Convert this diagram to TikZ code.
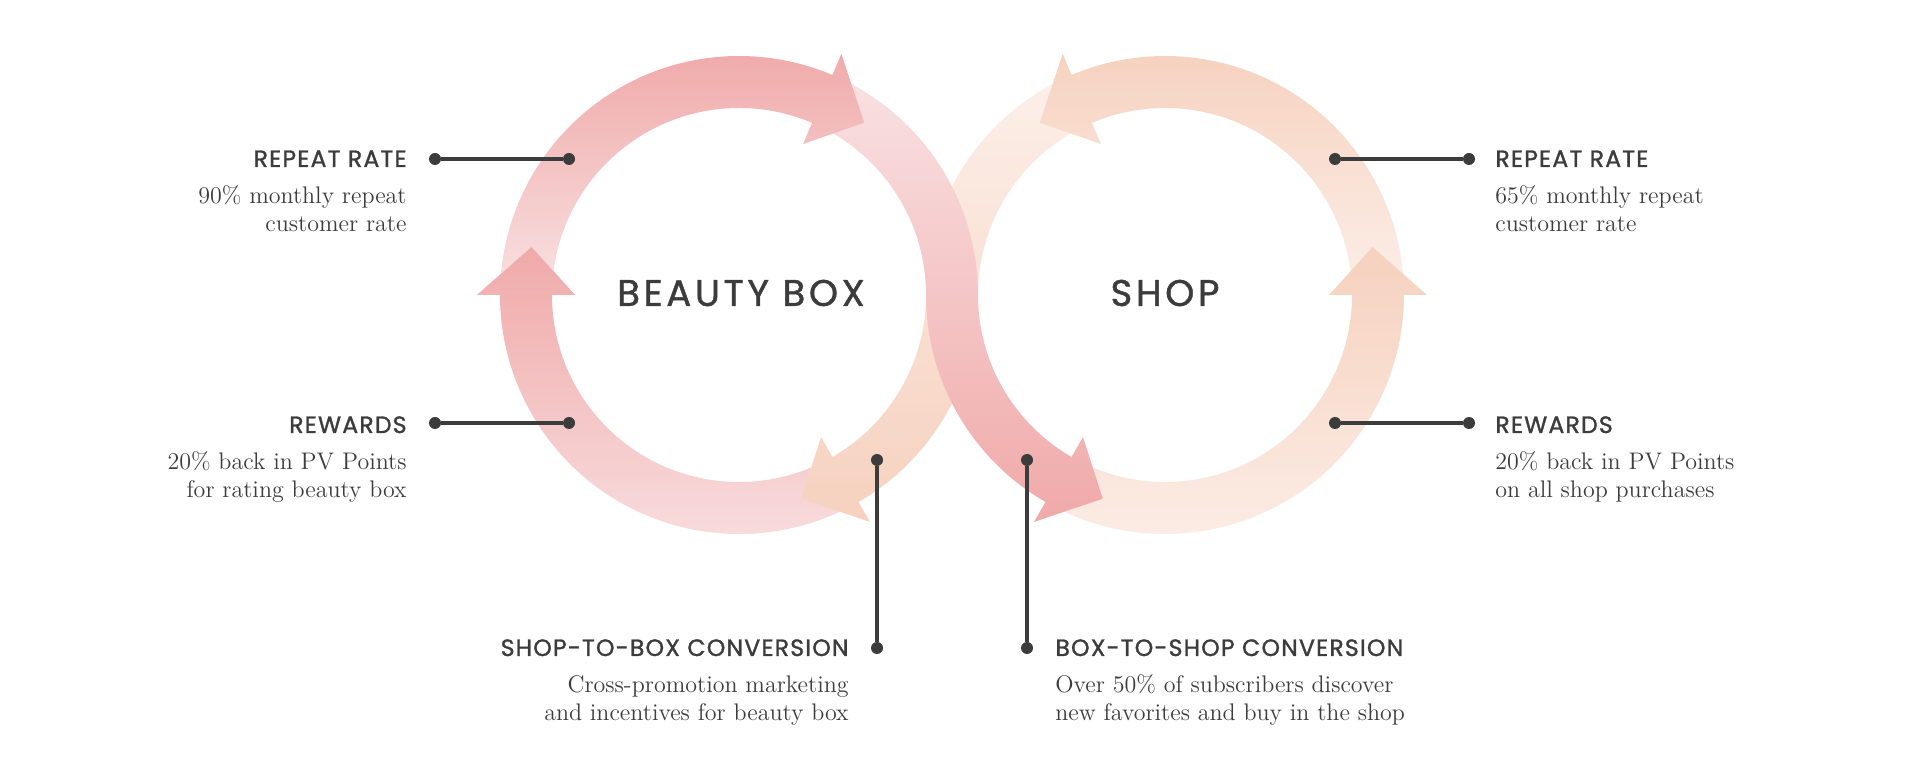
\documentclass[tikz,border=0pt]{standalone}
\usepackage{fontspec}
\usetikzlibrary{calc}
\newfontfamily\headfont[LetterSpace=5,FakeBold=1.3]{Poppins}
\newfontfamily\ringfont[LetterSpace=10,FakeBold=1.2]{Poppins}
\definecolor{ink}{HTML}{3C3C3C}
\definecolor{pinkdark}{HTML}{F0A9A9}
\definecolor{pinklight}{HTML}{F9E1E2}
\definecolor{peachdark}{HTML}{F6D1BE}
\definecolor{peachlight}{HTML}{FCEFE9}

\begin{document}
\begin{tikzpicture}[x=0.5pt,y=0.5pt,
    band/.style n args={4}{path picture={\shade[top color=#1,bottom color=#2] (0,#3) rectangle (1916,#4);}},
    pin/.style={circle,fill=ink,inner sep=0pt,minimum size=6pt},
    lead/.style={draw=ink,line width=1.6pt},
    headline/.style={font=\headfont\fontsize{11.8}{14}\selectfont,text=ink,inner sep=0pt},
    blurb/.style={font=\fontsize{12}{14}\selectfont,text=ink,inner sep=0pt},
    ringname/.style={font=\ringfont\fontsize{18.5}{22}\selectfont,text=ink}]
    \useasboundingbox (0,0) rectangle (1916,776);
    \coordinate (L) at (739,481);
    \coordinate (R) at (1165,481);

    % beauty box loop, left side up
    \path[band={pinkdark}{pinklight}{242}{529}]
        ($(L)+(-60:239)$) arc[start angle=-60,end angle=-180,radius=239]
        -- ($(L)+(180:262)$) -- ($(L)+(167:213)$) -- ($(L)+(180:164)$)
        -- ($(L)+(180:187)$) arc[start angle=180,end angle=300,radius=187] -- cycle;
    % shop to box
    \path[band={peachlight}{peachdark}{254}{701}]
        ($(R)+(113:239)$) arc[start angle=113,end angle=180,radius=239]
        arc[start angle=0,end angle=-60,radius=187]
        -- ($(L)+(-60:164)$) -- ($(L)+(-73:213)$) -- ($(L)+(-60:262)$)
        -- ($(L)+(-60:239)$) arc[start angle=-60,end angle=0,radius=239]
        arc[start angle=180,end angle=113,radius=187] -- cycle;
    % shop loop
    \path[band={peachdark}{peachlight}{481}{722}]
        ($(R)+(0:239)$) arc[start angle=0,end angle=113,radius=239]
        -- ($(R)+(113:262)$) -- ($(R)+(126:213)$) -- ($(R)+(113:164)$)
        -- ($(R)+(113:187)$) arc[start angle=113,end angle=0,radius=187] -- cycle;
    \path[band={peachdark}{peachlight}{242}{529}]
        ($(R)+(240:239)$) arc[start angle=240,end angle=360,radius=239]
        -- ($(R)+(0:262)$) -- ($(R)+(13:213)$) -- ($(R)+(0:164)$)
        -- ($(R)+(0:187)$) arc[start angle=360,end angle=240,radius=187] -- cycle;
    % box to shop
    \path[band={pinklight}{pinkdark}{254}{701}]
        ($(L)+(67:239)$) arc[start angle=67,end angle=0,radius=239]
        arc[start angle=180,end angle=240,radius=187]
        -- ($(R)+(240:164)$) -- ($(R)+(253:213)$) -- ($(R)+(240:262)$)
        -- ($(R)+(240:239)$) arc[start angle=240,end angle=180,radius=239]
        arc[start angle=0,end angle=67,radius=187] -- cycle;
    % beauty box loop, top
    \path[band={pinkdark}{pinklight}{481}{722}]
        ($(L)+(180:239)$) arc[start angle=180,end angle=67,radius=239]
        -- ($(L)+(67:262)$) -- ($(L)+(54:213)$) -- ($(L)+(67:164)$)
        -- ($(L)+(67:187)$) arc[start angle=67,end angle=180,radius=187] -- cycle;
    \path[band={pinkdark}{pinklight}{242}{529}]
        ($(L)+(180:262)$) -- ($(L)+(167:213)$) -- ($(L)+(180:164)$) -- cycle;

    \node[ringname] (box) at (741,483) {BEAUTY BOX};
    \node[ringname] (shop) at (1165,483) {SHOP};

    \node[pin] (p1) at (435,617) {};
    \node[pin] (p2) at (569,617) {};
    \node[pin] (p3) at (435,353) {};
    \node[pin] (p4) at (569,353) {};
    \node[pin] (p5) at (1335,617) {};
    \node[pin] (p6) at (1469,617) {};
    \node[pin] (p7) at (1335,353) {};
    \node[pin] (p8) at (1469,353) {};
    \node[pin] (p9) at (877,316) {};
    \node[pin] (p10) at (877,128) {};
    \node[pin] (p11) at (1027,316) {};
    \node[pin] (p12) at (1027,128) {};
    \draw[lead] (p1) -- (p2);
    \draw[lead] (p3) -- (p4);
    \draw[lead] (p5) -- (p6);
    \draw[lead] (p7) -- (p8);
    \draw[lead] (p9) -- (p10);
    \draw[lead] (p11) -- (p12);

    \node[headline,anchor=base east] (h1) at (407,609) {REPEAT RATE};
    \node[blurb,anchor=base east,align=right] (t1) at (407,544) {90\% monthly repeat\\customer rate};
    \node[headline,anchor=base east] (h2) at (407,343) {REWARDS};
    \node[blurb,anchor=base east,align=right] (t2) at (407,278) {20\% back in PV Points\\for rating beauty box};
    \node[headline,anchor=base west] (h3) at (1495,609) {REPEAT RATE};
    \node[blurb,anchor=base west,align=left] (t3) at (1495,544) {65\% monthly repeat\\customer rate};
    \node[headline,anchor=base west] (h4) at (1495,343) {REWARDS};
    \node[blurb,anchor=base west,align=left] (t4) at (1495,278) {20\% back in PV Points\\on all shop purchases};
    \node[headline,anchor=base east] (h5) at (849,120) {SHOP-TO-BOX CONVERSION};
    \node[blurb,anchor=base east,align=right] (t5) at (849,55) {Cross-promotion marketing\\and incentives for beauty box};
    \node[headline,anchor=base west] (h6) at (1055,120) {BOX-TO-SHOP CONVERSION};
    \node[blurb,anchor=base west,align=left] (t6) at (1055,55) {Over 50\% of subscribers discover\\new favorites and buy in the shop};
\end{tikzpicture}
\end{document}
